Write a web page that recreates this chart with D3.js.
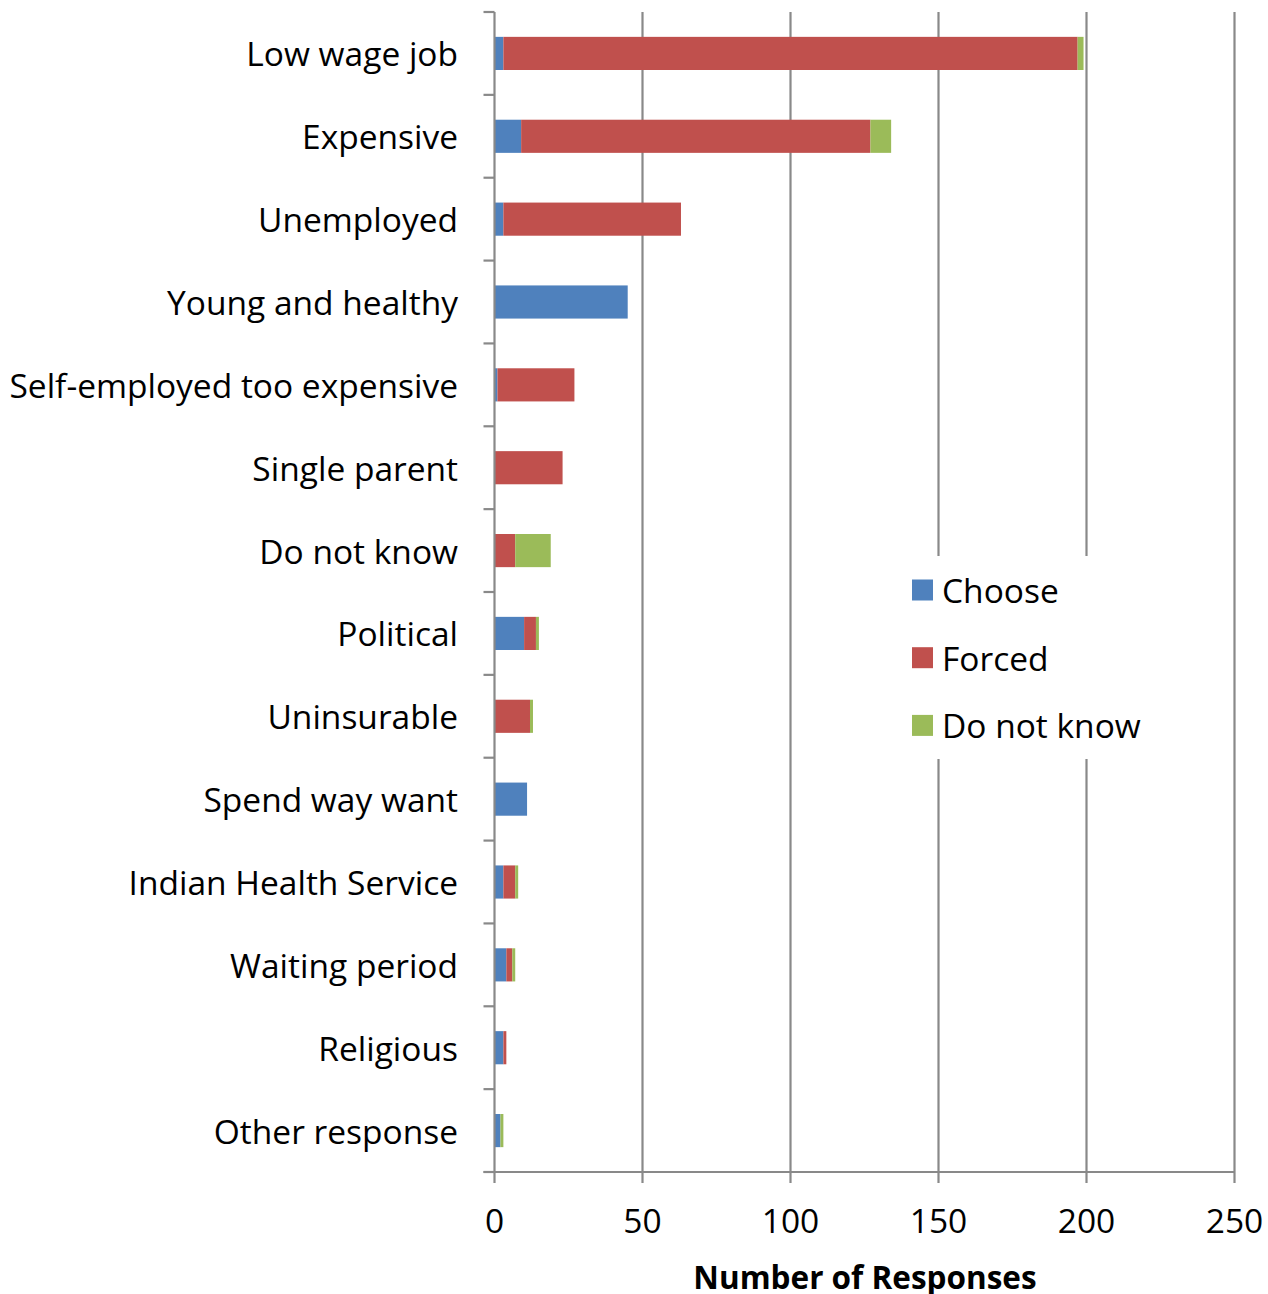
<!DOCTYPE html>
<html><head><meta charset="utf-8">
<script src="https://cdn.jsdelivr.net/npm/d3@7"></script>
<style>body{margin:0;background:#fff}</style>
</head><body>
<svg id="c" width="1268" height="1294"></svg>
<script>
const categories = ["Low wage job","Expensive","Unemployed","Young and healthy","Self-employed too expensive","Single parent","Do not know","Political","Uninsurable","Spend way want","Indian Health Service","Waiting period","Religious","Other response"];
const choose   = [3, 9, 3, 45, 1, 0, 0, 10, 0, 11, 3, 4, 3, 2];
const forced   = [194, 118, 60, 0, 26, 23, 7, 4, 12, 0, 4, 2, 1, 0];
const doNotKnow= [2, 7, 0, 0, 0, 0, 12, 1, 1, 0, 1, 1, 0, 1];
const seriesNames = ["Choose","Forced","Do not know"];
const seriesColors = ["#4F81BD","#C0504D","#9BBB59"];
const xTicks = [0,50,100,150,200,250];
const axisTitle = "Number of Responses";

const font = "'Open Sans', sans-serif";
const fs = 33.5;
const svg = d3.select("#c");
const m = {left:494.5, right:1234.5, top:12, bottom:1172};
const x = d3.scaleLinear().domain([0,250]).range([m.left, m.right]);
const y = d3.scaleBand().domain(categories).range([m.top, m.bottom]).paddingInner(0.6).paddingOuter(0.3);
const yb = d3.scaleBand().domain(categories).range([m.top, m.bottom]);

const data = categories.map((c,i)=>({cat:c, Choose:choose[i], Forced:forced[i], "Do not know":doNotKnow[i]}));
const stack = d3.stack().keys(seriesNames)(data);

// gridlines
svg.append("g").selectAll("line").data(xTicks.slice(1)).join("line")
  .attr("x1",d=>x(d)).attr("x2",d=>x(d)).attr("y1",m.top).attr("y2",m.bottom)
  .attr("stroke","#898989").attr("stroke-width",2.2);

// bars
svg.append("g").selectAll("g").data(stack).join("g")
  .attr("fill",(d,i)=>seriesColors[i])
  .selectAll("rect").data(d=>d).join("rect")
  .attr("x",d=>x(d[0])).attr("width",d=>Math.max(0,x(d[1])-x(d[0])))
  .attr("y",d=>y(d.data.cat)).attr("height",y.bandwidth());

// y axis
const ya = svg.append("g");
ya.append("line").attr("x1",m.left).attr("x2",m.left).attr("y1",m.top).attr("y2",m.bottom)
  .attr("stroke","#898989").attr("stroke-width",2.2);
const bounds = categories.map(c=>yb(c)).concat([m.bottom]);
ya.selectAll("line.t").data(bounds).join("line").attr("class","t")
  .attr("x1",m.left-11).attr("x2",m.left).attr("y1",d=>d).attr("y2",d=>d)
  .attr("stroke","#898989").attr("stroke-width",2.2);
ya.selectAll("text").data(categories).join("text")
  .attr("x",458).attr("y",d=>yb(d)+yb.bandwidth()/2)
  .attr("text-anchor","end").attr("dominant-baseline","central")
  .attr("font-family",font).attr("font-size",fs).attr("fill","#000").text(d=>d);

// x axis
const xa = svg.append("g");
xa.append("line").attr("x1",m.left-11).attr("x2",m.right).attr("y1",m.bottom).attr("y2",m.bottom)
  .attr("stroke","#898989").attr("stroke-width",2.2);
xa.selectAll("line.t").data(xTicks).join("line").attr("class","t")
  .attr("x1",d=>x(d)).attr("x2",d=>x(d)).attr("y1",m.bottom).attr("y2",m.bottom+11)
  .attr("stroke","#898989").attr("stroke-width",2.2);
xa.selectAll("text").data(xTicks).join("text")
  .attr("x",d=>x(d)).attr("y",1233).attr("text-anchor","middle")
  .attr("font-family",font).attr("font-size",fs).attr("fill","#000").text(d=>d);
svg.append("text").attr("x",865).attr("y",1289).attr("text-anchor","middle")
  .attr("font-family",font).attr("font-size",31.5).attr("font-weight","bold").text(axisTitle);

// legend
const lg = svg.append("g");
lg.append("rect").attr("x",900).attr("y",556).attr("width",250).attr("height",203).attr("fill","#fff");
seriesNames.forEach((s,i)=>{
  const cy = 590 + i*67.7;
  lg.append("rect").attr("x",912).attr("y",cy-10.5).attr("width",21).attr("height",21).attr("fill",seriesColors[i]);
  lg.append("text").attr("x",942).attr("y",cy).attr("dominant-baseline","central")
    .attr("font-family",font).attr("font-size",fs).text(s);
});
</script>
</body></html>
